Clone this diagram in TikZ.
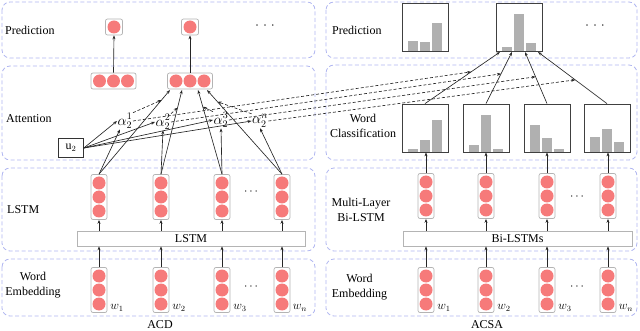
\documentclass[tikz,border=0pt]{standalone}
\usepackage{fontspec}
\setmainfont{Liberation Serif}
\usetikzlibrary{arrows.meta,calc}
\definecolor{panelc}{RGB}{176,182,240}
\definecolor{dotc}{RGB}{246,122,122}
\definecolor{boxc}{RGB}{180,180,180}
\definecolor{barc}{RGB}{176,176,176}
\newcommand{\VCol}[3]{%
  \node[colbox] (#1) at (#2,#3) {};
  \node[pdot] (#1a) at (#2,#3-14) {};
  \node[pdot] (#1b) at (#2,#3) {};
  \node[pdot] (#1c) at (#2,#3+14) {};}
\newcommand{\HRow}[3]{%
  \node[hbox] (#1) at (#2,#3) {};
  \node[pdot] (#1a) at (#2-14,#3) {};
  \node[pdot] (#1b) at (#2,#3) {};
  \node[pdot] (#1c) at (#2+14,#3) {};}
\newcommand{\SBox}[3]{%
  \node[sbox] (#1) at (#2,#3) {};
  \node[pdot] (#1a) at (#2,#3) {};}
\newcommand{\BarBox}[6]{%
  \node[barbox] (#1) at (#2,#3) {};
  \fill[barfill] (#2-17,#3+23.6) rectangle ++(10,-#4);
  \fill[barfill] (#2-5,#3+23.6) rectangle ++(10,-#5);
  \fill[barfill] (#2+7,#3+23.6) rectangle ++(10,-#6);}
\begin{document}
\begin{tikzpicture}[x=1pt,y=-1pt,
  panel/.style={draw=panelc, dash pattern=on 4pt off 2.5pt, line width=0.8pt, rounded corners=8pt},
  colbox/.style={draw=boxc, fill=white, rounded corners=2pt, minimum width=16pt, minimum height=45pt, inner sep=0pt, line width=0.7pt},
  hbox/.style={draw=boxc, fill=white, rounded corners=2pt, minimum width=45pt, minimum height=16pt, inner sep=0pt, line width=0.7pt},
  sbox/.style={draw=boxc, fill=white, rounded corners=2pt, minimum width=17pt, minimum height=16pt, inner sep=0pt, line width=0.7pt},
  pdot/.style={circle, fill=dotc, minimum size=13pt, inner sep=0pt},
  barbox/.style={draw=black!75, fill=white, line width=0.8pt, minimum width=46pt, minimum height=48pt, inner sep=0pt},
  barfill/.style={fill=barc},
  lbl/.style={font=\fontsize{12}{15}\selectfont, inner sep=0pt},
  alab/.style={font=\fontsize{14}{16}\selectfont, inner sep=0.5pt},
  lbarbox/.style={draw=boxc, fill=white, minimum height=15pt, inner sep=0pt, line width=0.7pt, font=\fontsize{12}{15}\selectfont},
  arr/.style={-{Stealth[length=4pt,width=3pt]}, line width=0.65pt, draw=black!85},
  darr/.style={arr, dash pattern=on 3pt off 2pt}
]
\useasboundingbox (0,0) rectangle (640,331);
% panels
\draw[panel] (2,2) rectangle (315,58);
\draw[panel] (2,66) rectangle (315,160);
\draw[panel] (2,168) rectangle (315,251);
\draw[panel] (2,259) rectangle (315,316);
\draw[panel] (326,2) rectangle (637,58);
\draw[panel] (326,65) rectangle (637,160);
\draw[panel] (326,168) rectangle (637,251);
\draw[panel] (326,259) rectangle (637,316);
% row labels
\node[lbl, anchor=west] (tp) at (5,30) {Prediction};
\node[lbl, anchor=west] (ta) at (6,119) {Attention};
\node[lbl, anchor=west] (tl) at (7,210) {LSTM};
\node[lbl, align=center] (tw) at (33,285.5) {Word\\Embedding};
\node[lbl, anchor=west] (rtp) at (332,30) {Prediction};
\node[lbl, align=center] (rtw) at (363,126) {Word\\Classification};
\node[lbl, align=center] (rtm) at (361,210) {Multi-Layer\\Bi-LSTM};
\node[lbl, align=center] (rte) at (359.5,287) {Word\\Embedding};
\node[lbl] (acd) at (160,325) {ACD};
\node[lbl] (acsa) at (487,325) {ACSA};
% ---------- left (ACD)
\SBox{p1}{114}{27}
\SBox{p2}{190}{27}
\node[lbl] (pdots) at (265,27) {·\hspace{4pt}·\hspace{4pt}·};
\HRow{a1}{113.5}{81}
\HRow{a2}{190}{81}
\node[alab] (al1) at (125,121) {$\alpha_2^1$};
\node[alab] (al2) at (163,122) {$\alpha_2^2$};
\node[alab] (al3) at (221,120) {$\alpha_2^3$};
\node[alab] (aln) at (260,121) {$\alpha_2^n$};
\node[lbl, draw=black!80, fill=white, line width=0.7pt, minimum width=25pt, minimum height=19pt] (u2) at (71,148) {$\mathrm{u}_2$};
\VCol{l1}{99}{197}
\VCol{l2}{161}{197}
\VCol{l3}{222}{197}
\VCol{l4}{282}{197}
\node[lbl] (ldots) at (251,192) {$\cdots$};
\node[lbarbox, minimum width=228pt] (lb) at (191,238.5) {LSTM};
\VCol{e1}{99}{290}
\VCol{e2}{161}{290}
\VCol{e3}{222}{290}
\VCol{e4}{282}{290}
\node[lbl] (edots) at (251,287) {$\cdots$};
\node[lbl] (w1) at (117,308) {$w_1$};
\node[lbl] (w2) at (179,308) {$w_2$};
\node[lbl] (w3) at (240,308) {$w_3$};
\node[lbl] (w4) at (300,308) {$w_n$};
% ---------- right (ACSA)
\BarBox{pb1}{425}{27.5}{10}{9}{28}
\BarBox{pb2}{519}{27.5}{4}{37}{8}
\node[lbl] (rpdots) at (595,27) {·\hspace{4pt}·\hspace{4pt}·};
\BarBox{wc1}{425}{128}{3}{12}{32}
\BarBox{wc2}{486}{128}{7}{37}{3}
\BarBox{wc3}{547}{128}{27}{14}{3}
\BarBox{wc4}{607}{128}{15}{23}{10}
\VCol{r1}{426}{196}
\VCol{r2}{486}{196}
\VCol{r3}{547}{196}
\VCol{r4}{608}{196}
\node[lbl] (rdots) at (577,197) {$\cdots$};
\node[lbarbox, minimum width=229pt] (rb) at (517.5,238.5) {Bi-LSTMs};
\VCol{f1}{426}{290}
\VCol{f2}{486}{290}
\VCol{f3}{547}{290}
\VCol{f4}{608}{290}
\node[lbl] (fdots) at (577,287) {$\cdots$};
\node[lbl] (v1) at (444,308) {$w_1$};
\node[lbl] (v2) at (504,308) {$w_2$};
\node[lbl] (v3) at (565,308) {$w_3$};
\node[lbl] (v4) at (626,308) {$w_n$};
% ---------- connectors
\foreach \i in {1,...,4}{
  \draw[arr] (e\i.north) -- (e\i.north |- lb.south);
  \draw[arr] (l\i.south |- lb.north) -- (l\i.south);
  \draw[arr] (f\i.north) -- (f\i.north |- rb.south);
  \draw[arr] (r\i.south |- rb.north) -- (r\i.south);
  \draw[arr] (r\i.north) -- (r\i.north |- wc\i.south);
}
\draw[arr] (a1.north) -- (p1.south);
\draw[arr] (a2.north) -- (p2.south);
% attention
\coordinate (t1) at (170,90);
\coordinate (t2) at (182,90);
\coordinate (t3) at (198,90);
\coordinate (t4) at (207,90);
\draw[arr] (l1.north) -- coordinate[pos=0.88] (m1) (t1);
\draw[arr] (l2.north) -- coordinate[pos=0.79] (m2) (t2);
\draw[arr] (l3.north) -- coordinate[pos=0.80] (m3) (t3);
\draw[arr] (l4.north) -- coordinate[pos=0.86] (m4) (t4);
\draw[arr] (l1.north) -- ($(al1.south)+(-5,0)$);
\draw[arr] (l2.north) -- (al2.south);
\draw[arr] (l3.north) -- (al3.south);
\draw[arr] (l4.north) -- (aln.south);
\foreach \a in {al1,al2,al3,aln} \draw[arr] (u2.east) -- (\a.west);
\draw[darr] (al1.north east) -- (m1);
\draw[darr] (al2.north east) -- (m2);
\draw[darr] (al3.north west) -- (m3);
\draw[darr] (aln.north west) -- (m4);
% word classification -> prediction
\coordinate (s1) at (500,52);
\coordinate (s2) at (512,52);
\coordinate (s3) at (525,52);
\coordinate (s4) at (538,52);
\draw[arr] (wc1.north) -- coordinate[pos=0.615] (d1) (s1);
\draw[arr] (wc2.north) -- coordinate[pos=0.577] (d2) (s2);
\draw[arr] (wc3.north) -- coordinate[pos=0.52] (d3) (s3);
\draw[arr] (wc4.north) -- coordinate[pos=0.46] (d4) (s4);
\draw[darr] (al1.east) -- (d1);
\draw[darr] (al2.east) -- (d2);
\draw[darr] (al3.east) -- (d3);
\draw[darr] (aln.east) -- (d4);
\end{tikzpicture}
\end{document}
